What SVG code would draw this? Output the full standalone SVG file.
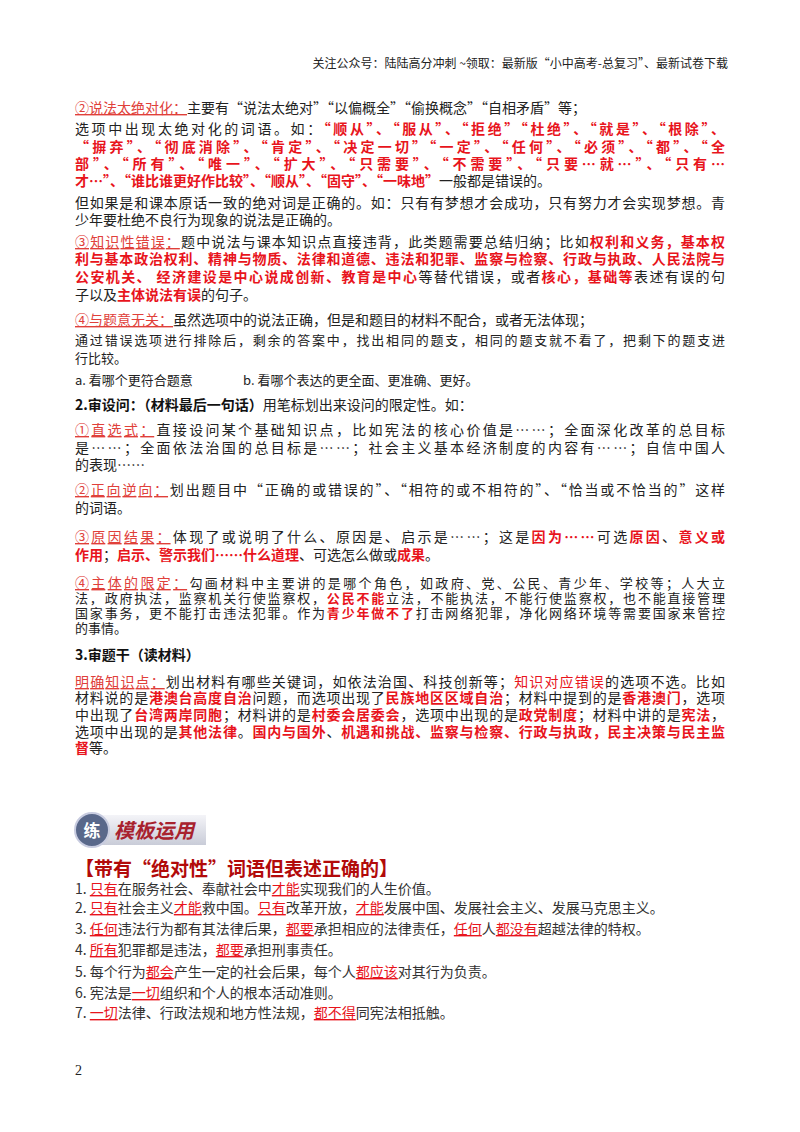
<svg xmlns="http://www.w3.org/2000/svg" width="800" height="1132" viewBox="0 0 800 1132">
<style>
text{font-family:"Noto Sans CJK SC","Noto Sans",sans-serif;font-size:14px;fill:#222}
.r{fill:#e8141c;font-weight:bold}
.rn{fill:#e8141c}
.lb{fill:#e0403a;text-decoration:underline}
.b{font-weight:bold;fill:#111}
.s{font-size:13px}
.it{font-size:14px;fill:#333}
.u{fill:#e8141c;text-decoration:underline}
</style>
<rect width="800" height="1132" fill="#fff"/>
<g id="header"><text x="728" y="68" text-anchor="end" style="font-size:12px">关注公众号：陆陆高分冲刺 ~领取：最新版“小中高考-总复习”、最新试卷下载</text></g>
<g id="sec1">
<text x="75" y="113"><tspan class="lb">②说法太绝对化：</tspan>主要有“说法太绝对”“以偏概全”“偷换概念”“自相矛盾”等；</text>
<text x="75" y="134" textLength="650" lengthAdjust="spacing">选项中出现太绝对化的词语。如：<tspan class="r">“顺从”、“服从”、“拒绝”“杜绝”、“就是”、“根除”、</tspan></text>
<text x="75" y="152" textLength="650" lengthAdjust="spacing" class="r">“摒弃”、“彻底消除”、“肯定”、“决定一切”“一定”、“任何”、“必须”、“都”、“全</text>
<text x="75" y="169" textLength="650" lengthAdjust="spacing" class="r">部”、“所有”、“唯一”、“扩大”、“只需要”、“不需要”、“只要…就…”、“只有…</text>
<text x="75" y="186"><tspan class="r">才…”、“谁比谁更好作比较”、“顺从”、“固守”、“一味地”</tspan>一般都是错误的。</text>
<text x="75" y="208" textLength="650" lengthAdjust="spacing">但如果是和课本原话一致的绝对词是正确的。如：只有有梦想才会成功，只有努力才会实现梦想。青</text>
<text x="75" y="225">少年要杜绝不良行为现象的说法是正确的。</text>
<text x="75" y="247" textLength="650" lengthAdjust="spacing"><tspan class="lb">③知识性错误：</tspan>题中说法与课本知识点直接违背，此类题需要总结归纳；比如<tspan class="r">权利和义务，基本权</tspan></text>
<text x="75" y="264" textLength="650" lengthAdjust="spacing" class="r">利与基本政治权利、精神与物质、法律和道德、违法和犯罪、监察与检察、行政与执政、人民法院与</text>
<text x="75" y="282" textLength="650" lengthAdjust="spacing"><tspan class="r">公安机关、 经济建设是中心说成创新、教育是中心</tspan>等替代错误，或者<tspan class="r">核心，基础等</tspan>表述有误的句</text>
<text x="75" y="300">子以及<tspan class="r">主体说法有误</tspan>的句子。</text>
<text x="75" y="325"><tspan class="lb">④与题意无关：</tspan>虽然选项中的说法正确，但是和题目的材料不配合，或者无法体现；</text>
<text x="75" y="345" class="s" textLength="650" lengthAdjust="spacing">通过错误选项进行排除后，剩余的答案中，找出相同的题支，相同的题支就不看了，把剩下的题支进</text>
<text x="75" y="363" class="s">行比较。</text>
<text x="75" y="385" class="s">a. 看哪个更符合题意</text>
<text x="243" y="385" class="s">b. 看哪个表达的更全面、更准确、更好。</text>
</g>
<g id="sec2">
<text x="75" y="410"><tspan class="b">2.审设问：（材料最后一句话）</tspan>用笔标划出来设问的限定性。如：</text>
<text x="75" y="435" textLength="650" lengthAdjust="spacing"><tspan class="lb">①直选式：</tspan>直接设问某个基础知识点，比如宪法的核心价值是……；全面深化改革的总目标</text>
<text x="75" y="453" textLength="650" lengthAdjust="spacing">是……；全面依法治国的总目标是……；社会主义基本经济制度的内容有……；自信中国人</text>
<text x="75" y="470">的表现……</text>
<text x="75" y="495" textLength="650" lengthAdjust="spacing"><tspan class="lb">②正向逆向：</tspan>划出题目中“正确的或错误的”、“相符的或不相符的”、“恰当或不恰当的”这样</text>
<text x="75" y="513">的词语。</text>
<text x="75" y="542" textLength="650" lengthAdjust="spacing"><tspan class="lb">③原因结果：</tspan>体现了或说明了什么、原因是、启示是……；这是<tspan class="r">因为……</tspan>可选<tspan class="r">原因</tspan>、<tspan class="r">意义或</tspan></text>
<text x="75" y="560"><tspan class="r">作用</tspan>；<tspan class="r">启示、警示我们……什么道理</tspan>、可选怎么做或<tspan class="r">成果</tspan>。</text>
<text x="75" y="588" textLength="650" lengthAdjust="spacing"><tspan class="lb">④主体的限定：</tspan><tspan class="s">勾画材料中主要讲的是哪个角色，如政府、党、公民、青少年、学校等；人大立</tspan></text>
<text x="75" y="603" class="s" textLength="650" lengthAdjust="spacing">法，政府执法，监察机关行使监察权，<tspan class="r">公民不能</tspan>立法，不能执法，不能行使监察权，也不能直接管理</text>
<text x="75" y="618" class="s" textLength="650" lengthAdjust="spacing">国家事务，更不能打击违法犯罪。作为<tspan class="r">青少年做不了</tspan>打击网络犯罪，净化网络环境等需要国家来管控</text>
<text x="75" y="633" class="s">的事情。</text>
</g>
<g id="sec3">
<text x="75" y="660" class="b">3.审题干（读材料）</text>
<text x="75" y="687" textLength="650" lengthAdjust="spacing"><tspan class="lb">明确知识点：</tspan>划出材料有哪些关键词，如依法治国、科技创新等；<tspan class="rn">知识对应错误</tspan>的选项不选。比如</text>
<text x="75" y="703" textLength="650" lengthAdjust="spacing">材料说的是<tspan class="r">港澳台高度自治</tspan>问题，而选项出现了<tspan class="r">民族地区区域自治</tspan>；材料中提到的是<tspan class="r">香港澳门</tspan>，选项</text>
<text x="75" y="720" textLength="650" lengthAdjust="spacing">中出现了<tspan class="r">台湾两岸同胞</tspan>；材料讲的是<tspan class="r">村委会居委会</tspan>，选项中出现的是<tspan class="r">政党制度</tspan>；材料中讲的是<tspan class="r">宪法</tspan>，</text>
<text x="75" y="737" textLength="650" lengthAdjust="spacing">选项中出现的是<tspan class="r">其他法律</tspan>。<tspan class="r">国内与国外</tspan>、<tspan class="r">机遇和挑战、监察与检察、行政与执政，民主决策与民主监</tspan></text>
<text x="75" y="753"><tspan class="r">督</tspan>等。</text>
</g>
<g id="badge">
<defs><linearGradient id="bg" x1="0" y1="0" x2="0" y2="1"><stop offset="0" stop-color="#f4f4f8"/><stop offset="1" stop-color="#c9ccd8"/></linearGradient></defs>
<rect x="100" y="815" width="106" height="30" fill="url(#bg)"/>
<circle cx="92" cy="830" r="17" fill="#59688a" stroke="#c8cce0" stroke-width="2"/>
<text x="92" y="837" text-anchor="middle" style="font-size:17px;font-weight:bold;fill:#fff">练</text>
<text x="114" y="838" style="font-size:20px;font-weight:bold;fill:#a8222e;font-style:italic">模板运用</text>
</g>
<g id="examples">
<text x="75" y="876" style="font-size:19px;font-weight:bold;fill:#b20a0a">【带有“绝对性”词语但表述正确的】</text>
<text x="75" y="894" class="it">1. <tspan class="u">只有</tspan>在服务社会、奉献社会中<tspan class="u">才能</tspan>实现我们的人生价值。</text>
<text x="75" y="913" class="it">2. <tspan class="u">只有</tspan>社会主义<tspan class="u">才能</tspan>救中国。<tspan class="u">只有</tspan>改革开放，<tspan class="u">才能</tspan>发展中国、发展社会主义、发展马克思主义。</text>
<text x="75" y="934" class="it">3. <tspan class="u">任何</tspan>违法行为都有其法律后果，<tspan class="u">都要</tspan>承担相应的法律责任，<tspan class="u">任何</tspan>人<tspan class="u">都没有</tspan>超越法律的特权。</text>
<text x="75" y="955" class="it">4. <tspan class="u">所有</tspan>犯罪都是违法，<tspan class="u">都要</tspan>承担刑事责任。</text>
<text x="75" y="977" class="it">5. 每个行为<tspan class="u">都会</tspan>产生一定的社会后果，每个人<tspan class="u">都应该</tspan>对其行为负责。</text>
<text x="75" y="998" class="it">6. 宪法是<tspan class="u">一切</tspan>组织和个人的根本活动准则。</text>
<text x="75" y="1018" class="it">7. <tspan class="u">一切</tspan>法律、行政法规和地方性法规，<tspan class="u">都不得</tspan>同宪法相抵触。</text>
</g>
<text x="75" y="1075" style="font-family:'Liberation Serif',serif;font-size:14px">2</text>
</svg>
